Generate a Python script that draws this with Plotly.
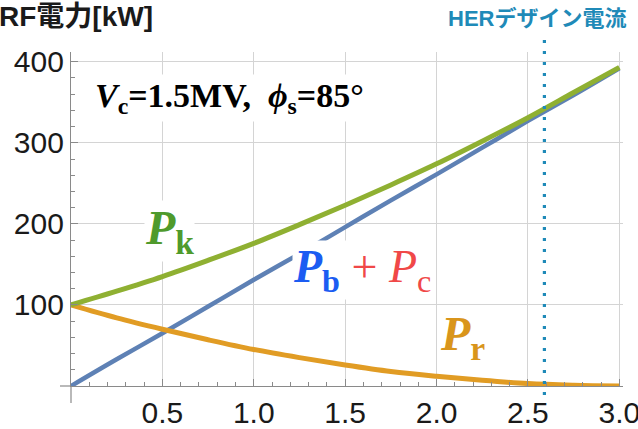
import plotly.graph_objects as go

# ---- data ----
current = [0.0, 0.25, 0.5, 0.75, 1.0, 1.25, 1.5, 1.75, 2.0, 2.25, 2.5, 2.75, 3.0]
p_k = [100, 117, 135, 155, 176, 199, 223, 248, 274, 302, 331, 362, 393]
p_bc = [0, 33, 65, 98, 131, 163, 196, 229, 261, 294, 327, 359, 392]
p_r = [100, 84, 70, 57, 45, 35, 26, 18, 12, 7, 3, 1, 0]
her_current = 2.59
x_ticks = [0.5, 1.0, 1.5, 2.0, 2.5, 3.0]
y_ticks = [100, 200, 300, 400]
x_range = [0, 3.02]
y_range = [0, 412]

# ---- layout geometry ----
W, H = 638, 429
ML, MR, MT, MB = 71, 15, 52, 43
PW, PH = W - ML - MR, H - MT - MB


def px_x(px):
    return (px - ML) / PW


def px_y(py):
    return (H - MB - py) / PH


BLUE = "#5E81B5"
ORANGE = "#E19C24"
GREEN = "#8FB032"
AXIS = "#8a8a8a"
GRID = "#d4d4d4"
TEXT = "#1a1a1a"
SERIF = "Liberation Serif, Times New Roman, serif"
SANS = "Liberation Sans, Arial, Noto Sans CJK JP, sans-serif"

fig = go.Figure()
fig.add_trace(go.Scatter(x=current, y=p_bc, mode="lines", line=dict(color=BLUE, width=4.5, shape="spline"), name="Pb+Pc"))
fig.add_trace(go.Scatter(x=current, y=p_r, mode="lines", line=dict(color=ORANGE, width=5, shape="spline"), name="Pr"))
fig.add_trace(go.Scatter(x=current, y=p_k, mode="lines", line=dict(color=GREEN, width=5, shape="spline"), name="Pk"))

her_paper = (her_current - x_range[0]) / (x_range[1] - x_range[0])

shapes = [
    # axis extensions (Mathematica style)
    dict(type="line", xref="paper", yref="paper", x0=0, x1=0, y0=0, y1=px_y(403),
         line=dict(color=AXIS, width=1.2)),
    dict(type="line", xref="paper", yref="paper", x0=px_x(60), x1=0, y0=0, y1=0,
         line=dict(color=AXIS, width=1.2)),
    # HER design current marker
    dict(type="line", xref="paper", yref="paper", x0=her_paper, x1=her_paper,
         y0=px_y(395), y1=px_y(37), line=dict(color="#1f8ab8", width=3.2, dash="3px,8px")),
]

annotations = [
    dict(text="<b>RF電力[kW]</b>", xref="paper", yref="paper", x=px_x(155), y=px_y(16),
         xanchor="right", yanchor="middle", showarrow=False,
         font=dict(family=SANS, size=28, color=TEXT)),
    dict(text="<b>HERデザイン電流</b>", xref="paper", yref="paper", x=her_paper, y=px_y(19),
         xanchor="center", yanchor="middle", xshift=-7, showarrow=False,
         font=dict(family=SANS, size=22, color="#1f8ab8")),
    dict(text="<b><i>V</i><sub>c</sub>=1.5MV,  <i>ϕ</i><sub>s</sub>=85°</b>", x=0.865, y=355,
         showarrow=False, bgcolor="white", borderpad=2,
         font=dict(family=SERIF, size=34, color="black")),
    dict(text="<b><i>P</i><sub>k</sub></b>", x=0.54, y=191, showarrow=False, bgcolor="white", borderpad=0,
         font=dict(family=SERIF, size=48, color="#4f9a2c")),
    dict(text="<b><i>P</i><sub>b</sub></b><span style='color:#f04848'> + <i>P</i><sub>c</sub></span>",
         x=1.594, y=143, showarrow=False, bgcolor="white", borderpad=0,
         font=dict(family=SERIF, size=46, color="#1b5cf2")),
    dict(text="<b><i>P</i><sub>r</sub></b>", x=2.144, y=60, showarrow=False, bgcolor="white", borderpad=0,
         font=dict(family=SERIF, size=48, color="#d9951b")),
]

fig.update_layout(
    width=W, height=H, autosize=False,
    margin=dict(l=ML, r=MR, t=MT, b=MB, pad=0, autoexpand=False),
    paper_bgcolor="white", plot_bgcolor="white",
    showlegend=False,
    shapes=shapes, annotations=annotations,
    font=dict(family=SANS, color=TEXT),
)
fig.update_xaxes(
    range=x_range, tickmode="array", tickvals=x_ticks, ticktext=[f"{v:.1f}" for v in x_ticks],
    showgrid=True, gridcolor=GRID, gridwidth=1, zeroline=False,
    showline=True, linecolor=AXIS, linewidth=1.2,
    ticks="inside", ticklen=7, tickcolor=AXIS, tickwidth=1,
    minor=dict(ticks="inside", ticklen=4, dtick=0.1, tick0=0, tickcolor=AXIS, showgrid=False),
    tickfont=dict(family=SANS, size=30, color=TEXT),
    ticklabeloverflow="allow", automargin=False,
)
fig.update_yaxes(
    range=y_range, tickmode="array", tickvals=y_ticks,
    showgrid=True, gridcolor=GRID, gridwidth=1, zeroline=False,
    showline=True, linecolor=AXIS, linewidth=1.2,
    ticks="inside", ticklen=7, tickcolor=AXIS, tickwidth=1,
    minor=dict(ticks="inside", ticklen=4, dtick=20, tick0=0, tickcolor=AXIS, showgrid=False),
    tickfont=dict(family=SANS, size=30, color=TEXT),
    ticklabeloverflow="allow", automargin=False,
)

fig.write_html("out.html")
